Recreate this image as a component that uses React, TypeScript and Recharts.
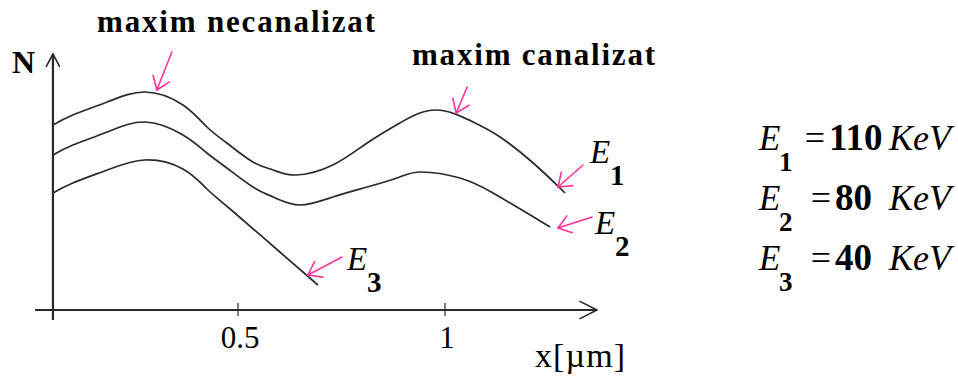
import React from 'react';
import { LineChart, Line, XAxis, YAxis, ReferenceLine, ReferenceDot } from 'recharts';

// depth positions (µm) and yields N (arbitrary units) for each beam energy
const X_TICKS = [0.5, 1];

const E1_X = [0.053, 0.101, 0.184, 0.275, 0.367, 0.425, 0.473, 0.536, 0.585, 0.64, 0.729, 0.812, 0.891, 0.978, 1.068, 1.133, 1.213, 1.29];
const E1_N = [185, 195, 208, 218, 205, 183, 167, 148, 140, 135, 145, 167, 187, 200, 188, 173, 147, 117];

const E2_X = [0.053, 0.101, 0.184, 0.275, 0.367, 0.425, 0.473, 0.536, 0.585, 0.65, 0.729, 0.812, 0.891, 0.942, 1.036, 1.116, 1.198, 1.254];
const E2_N = [155, 165, 178, 188, 175, 157, 142, 123, 113, 105, 113, 123, 133, 138, 132, 117, 97, 83];

const E3_X = [0.053, 0.101, 0.184, 0.275, 0.367, 0.425, 0.481, 0.601, 0.693];
const E3_N = [117, 127, 140, 150, 141, 121, 101, 58, 25];

const ENERGIES = ['110', '80', '40'];

const zip = (xs: number[], ns: number[]) => xs.map((x, i) => ({ x, n: ns[i] }));

const SERIES = [zip(E1_X, E1_N), zip(E2_X, E2_N), zip(E3_X, E3_N)];

// pink pointers: tip in data units, tail offset in px
const POINTERS = [
  { x: 0.304, n: 220, dx: 15, dy: -38 },
  { x: 1.027, n: 197, dx: 11, dy: -26 },
  { x: 1.273, n: 123, dx: 25, dy: -22 },
  { x: 1.273, n: 82, dx: 34, dy: -11 },
  { x: 0.669, n: 35, dx: 34, dy: -18 },
];

const PINK = '#ff3399';
const INK = '#2a2a2a';
const SERIF = '"Liberation Serif", "Times New Roman", serif';

const X_AXIS_FROM = 0.01;
const X_AXIS_TO = 1.367;
const Y_AXIS_AT = 0.053;

type ArrowProps = { cx?: number; cy?: number; dx: number; dy: number; head: number; spread: number; color: string; shaft: boolean };

const Arrow = ({ cx = 0, cy = 0, dx, dy, head, spread, color, shaft }: ArrowProps) => {
  const len = Math.hypot(dx, dy);
  const ux = dx / len;
  const uy = dy / len;
  const a = (spread * Math.PI) / 180;
  const rot = (t: number) => [ux * Math.cos(t) - uy * Math.sin(t), ux * Math.sin(t) + uy * Math.cos(t)];
  const [ax, ay] = rot(a);
  const [bx, by] = rot(-a);
  return (
    <g stroke={color} strokeWidth={1.6} fill="none" strokeLinecap="round">
      {shaft && <line x1={cx} y1={cy} x2={cx + dx} y2={cy + dy} />}
      <line x1={cx} y1={cy} x2={cx + ax * head} y2={cy + ay * head} />
      <line x1={cx} y1={cy} x2={cx + bx * head} y2={cy + by * head} />
    </g>
  );
};

const Tick = (props: any) => {
  const { x, y, payload } = props;
  return (
    <g>
      <line x1={x} y1={y - 7} x2={x} y2={y + 6} stroke={INK} strokeWidth={1.2} />
      <text x={x + 2} y={y + 38} textAnchor="middle" fontFamily={SERIF} fontSize={31} fill="#000">
        {payload.value}
      </text>
    </g>
  );
};

const Sym = ({ x, y, idx }: { x: number; y: number; idx: number }) => (
  <g fontFamily={SERIF} fill="#000">
    <text x={x} y={y} fontSize={33} fontStyle="italic">E</text>
    <text x={x + 20} y={y + 22} fontSize={29} fontWeight="bold">{idx}</text>
  </g>
);

export default function App() {
  return (
    <div style={{ position: 'absolute', left: 0, top: 0, width: 958, height: 376, background: '#fff' }}>
      <LineChart width={958} height={376} margin={{ top: 50, right: 347.4, bottom: 0, left: 31 }}>
        <XAxis
          dataKey="x"
          type="number"
          domain={[0, 1.4]}
          ticks={X_TICKS}
          interval={0}
          axisLine={false}
          tickLine={false}
          tickSize={0}
          tickMargin={0}
          height={66}
          tick={<Tick />}
        />
        <YAxis type="number" domain={[0, 260]} hide allowDataOverflow />

        <ReferenceLine
          segment={[{ x: X_AXIS_FROM, y: 0 }, { x: X_AXIS_TO, y: 0 }]}
          stroke={INK}
          strokeWidth={2.2}
          ifOverflow="visible"
        />
        <ReferenceLine
          segment={[{ x: Y_AXIS_AT, y: -10 }, { x: Y_AXIS_AT, y: 256 }]}
          stroke={INK}
          strokeWidth={2.2}
          ifOverflow="visible"
        />
        <ReferenceDot
          x={X_AXIS_TO}
          y={0}
          r={1}
          ifOverflow="visible"
          shape={(p: any) => <Arrow cx={p.cx} cy={p.cy} dx={-1} dy={0} head={19} spread={27} color={INK} shaft={false} />}
        />
        <ReferenceDot
          x={Y_AXIS_AT}
          y={256}
          r={1}
          ifOverflow="visible"
          shape={(p: any) => <Arrow cx={p.cx} cy={p.cy} dx={0} dy={1} head={14} spread={28} color={INK} shaft={false} />}
        />

        {SERIES.map((data, i) => (
          <Line
            key={i}
            data={data}
            dataKey="n"
            type="natural"
            stroke={INK}
            strokeWidth={1.7}
            dot={false}
            activeDot={false}
            isAnimationActive={false}
          />
        ))}

        {POINTERS.map((p, i) => (
          <ReferenceDot
            key={i}
            x={p.x}
            y={p.n}
            r={1}
            ifOverflow="visible"
            shape={(s: any) => <Arrow cx={s.cx} cy={s.cy} dx={p.dx} dy={p.dy} head={15} spread={36} color={PINK} shaft />}
          />
        ))}
      </LineChart>

      <svg width={958} height={376} style={{ position: 'absolute', left: 0, top: 0, pointerEvents: 'none' }}>
        <g fontFamily={SERIF} fill="#000">
          <text x={97} y={32} fontSize={31} fontWeight="bold" textLength={278} lengthAdjust="spacing">maxim necanalizat</text>
          <text x={412} y={65} fontSize={31} fontWeight="bold" textLength={243} lengthAdjust="spacing">maxim canalizat</text>
          <text x={12} y={73} fontSize={32} fontWeight="bold">N</text>
          <text x={535} y={367} fontSize={34} textLength={90} lengthAdjust="spacing">x[µm]</text>
        </g>

        <Sym x={590} y={163} idx={1} />
        <Sym x={595} y={234} idx={2} />
        <Sym x={347} y={270} idx={3} />

        {ENERGIES.map((e, i) => {
          const y = 150 + i * 60;
          return (
            <g key={e} fontFamily={SERIF} fill="#000">
              <text x={759} y={y} fontSize={35} fontStyle="italic">E</text>
              <text x={779} y={y + 21} fontSize={27} fontWeight="bold">{i + 1}</text>
              <text x={i === 0 ? 815 : 821} y={y} fontSize={36} textAnchor="middle">=</text>
              <text x={i === 0 ? 829 : 835} y={y} fontSize={37} fontWeight="bold">{e}</text>
              <text x={951} y={y} fontSize={36} fontStyle="italic" textAnchor="end">KeV</text>
            </g>
          );
        })}
      </svg>
    </div>
  );
}
